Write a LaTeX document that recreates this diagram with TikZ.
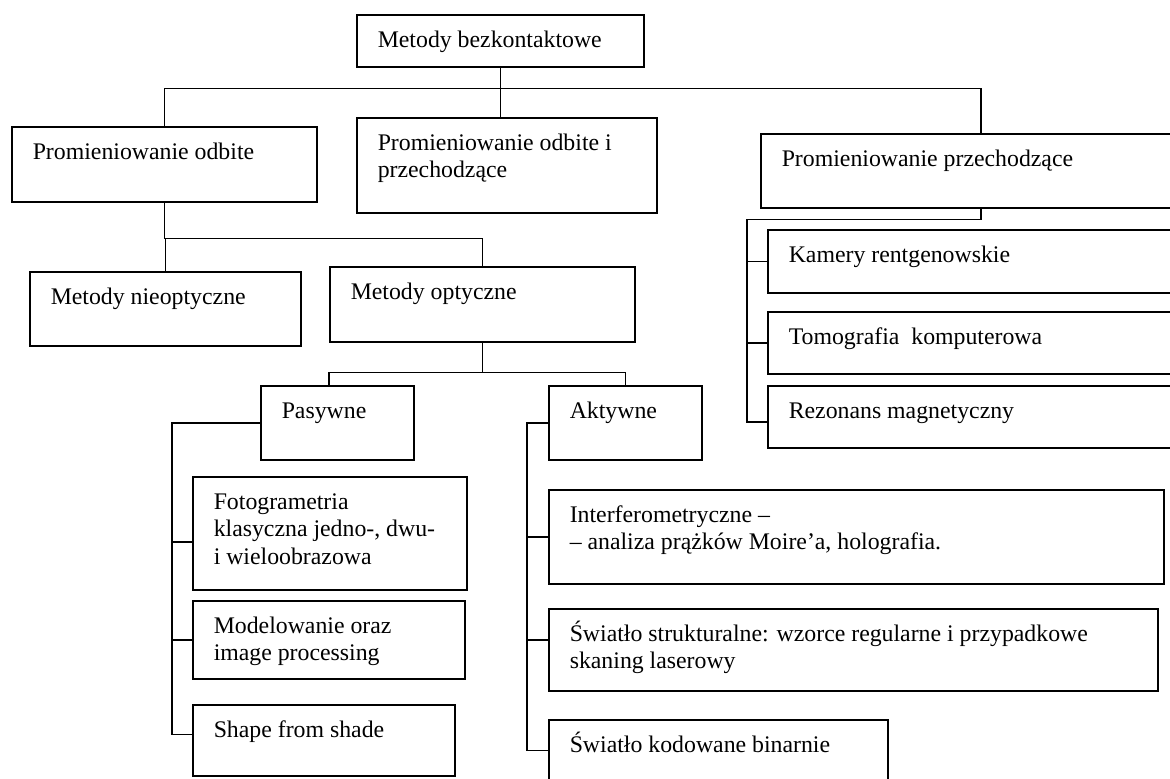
\documentclass[tikz,border=0pt]{standalone}
\usepackage{fontspec}
\setmainfont{Liberation Serif}
\usepackage{tikz}
\usetikzlibrary{positioning,calc}

\newcommand{\cell}[3]{\parbox[t][#2][t]{#1}{\raggedright\leftskip=10.5pt\rule{0pt}{16.25pt}#3}}

\begin{document}
\begin{tikzpicture}[x=0.5pt,y=-0.5pt,line width=0.75pt,
		font=\fontsize{11.9}{13.75}\selectfont,
		box/.style={draw,inner sep=0pt,anchor=north west}]
			\useasboundingbox (0,0) rectangle (1170,778);
			\clip (0,0) rectangle (1170,778);

			\node[box] (mbk) at (356,14) {\cell{143.5pt}{26pt}{Metody bezkontaktowe}};
			\node[box] (odb) at (11,126) {\cell{152.5pt}{37.5pt}{Promieniowanie odbite}};
			\node[box] (odp) at (356,117) {\cell{150pt}{47.5pt}{Promieniowanie odbite i\\przechodzące}};
			\node[box] (prz) at (760,133) {\cell{220pt}{37pt}{Promieniowanie przechodzące}};

			\node[box] (nieopt) at (29,271) {\cell{135.5pt}{37pt}{Metody nieoptyczne}};
			\node[box] (opt) at (329,266) {\cell{152.5pt}{37.5pt}{Metody optyczne}};

			\node[box] (kam) at (767,229) {\cell{216.5pt}{31.5pt}{Kamery rentgenowskie}};
			\node[box] (tomo) at (767,311) {\cell{216.5pt}{31pt}{Tomografia~~komputerowa}};
			\node[box] (rez) at (767,385) {\cell{216.5pt}{31pt}{Rezonans magnetyczny}};

			\node[box] (pas) at (260,385) {\cell{76.5pt}{37pt}{Pasywne}};
			\node[box] (akt) at (548,385) {\cell{76.5pt}{37pt}{Aktywne}};

			\node[box] (foto) at (192,476) {\cell{137pt}{56.5pt}{Fotogrametria\\klasyczna jedno-, dwu-\\i wieloobrazowa}};
			\node[box] (model) at (192,600) {\cell{136pt}{39pt}{Modelowanie oraz\\image processing}};
			\node[box] (shape) at (192,704) {\cell{131pt}{35.5pt}{Shape from shade}};

			\node[box] (inter) at (548,489) {\cell{307.5pt}{47pt}{Interferometryczne –\\– analiza prążków Moire’a, holografia.}};
			\node[box] (strukt) at (548,608) {\cell{304.5pt}{41pt}{Światło strukturalne: wzorce regularne i przypadkowe\\skaning laserowy}};
			\node[box] (kod) at (548,719) {\cell{169.5pt}{35.5pt}{Światło kodowane binarnie}};

			\draw (mbk.south) -- ++(0,21) coordinate (b1);
			\draw (odb.north) |- (b1) -| (prz.north);
			\draw (b1) -- (b1 |- odp.north);

			\draw (odb.south) -- ++(0,36) coordinate (b2);
			\draw (nieopt.north) |- (b2) -| (opt.north);

			\draw (opt.south) -- ++(0,30) coordinate (b3);
			\draw (pas.north -| opt.west) |- (b3) -| (akt.north);

			\draw (pas.west) -| ([shift={(-10pt,3pt)}]shape.west) -- ([yshift=3pt]shape.west);
			\draw ([shift={(-10pt,-4.25pt)}]foto.west) -- ([yshift=-4.25pt]foto.west);
			\draw ([xshift=-10pt]model.west) -- (model.west);

			\draw (akt.west) -| ([shift={(-10.5pt,2.5pt)}]kod.west) -- ([yshift=2.5pt]kod.west);
			\draw ([xshift=-10.5pt]inter.west) -- (inter.west);
			\draw ([shift={(-10.5pt,5pt)}]strukt.west) -- ([yshift=5pt]strukt.west);

			\draw (prz.south) -- ++(0,11) -| ([shift={(-10pt,-2.5pt)}]rez.west) -- ([yshift=-2.5pt]rez.west);
			\draw ([xshift=-10pt]kam.west) -- (kam.west);
			\draw ([xshift=-10pt]tomo.west) -- (tomo.west);
		\end{tikzpicture}
\end{document}
